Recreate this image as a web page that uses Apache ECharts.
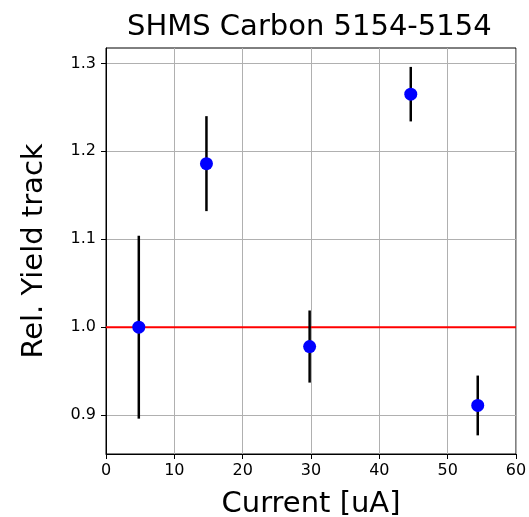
<!DOCTYPE html>
<html>
<head>
<meta charset="utf-8">
<script src="https://cdn.jsdelivr.net/npm/echarts@6/dist/echarts.min.js"></script>
<style>
html,body{margin:0;padding:0;background:#fff;}
#c{width:529px;height:517px;}
</style>
</head>
<body>
<div id="c"></div>
<script>
const titleText = 'SHMS Carbon 5154-5154';
const currents = [4.8, 14.7, 29.8, 44.6, 54.4];
const yields = [1.000, 1.186, 0.978, 1.265, 0.911];
const errors = [0.104, 0.054, 0.041, 0.031, 0.034];
const refLevel = 1.0;
const xTicks = [0, 10, 20, 30, 40, 50, 60];
const yTicks = [0.9, 1.0, 1.1, 1.2, 1.3];

const font = 'DejaVu Sans';
const chart = echarts.init(document.getElementById('c'), null, {renderer: 'canvas'});

const errData = currents.map((x, i) => [x, yields[i] - errors[i], yields[i] + errors[i]]);
const ptData = currents.map((x, i) => [x, yields[i]]);

chart.setOption({
  animation: false,
  backgroundColor: '#fff',
  title: {
    text: titleText,
    left: 122, top: 8,
    textStyle: {fontFamily: font, fontSize: 29, fontWeight: 'normal', color: '#000'}
  },
  grid: {left: 106, right: 13, top: 48, bottom: 63, outerBoundsMode: 'none', containLabel: false,
    show: true, borderColor: '#000', borderWidth: 1, backgroundColor: 'transparent'},
  xAxis: {
    type: 'value', min: 0, max: 60, interval: 10,
    name: 'Current [uA]', nameLocation: 'middle', nameGap: 36,
    nameTextStyle: {fontFamily: font, fontSize: 29, color: '#000'},
    axisLine: {show: true, lineStyle: {color: '#000', width: 1}},
    axisTick: {show: true, length: 5, lineStyle: {color: '#000'}},
    axisLabel: {fontFamily: font, fontSize: 16, color: '#000', margin: 9,
      customValues: xTicks},
    splitLine: {show: true, lineStyle: {color: '#b0b0b0', width: 1}}
  },
  yAxis: {
    type: 'value', min: 0.8558, max: 1.3175,
    name: 'Rel. Yield track', nameLocation: 'middle', nameGap: 57,
    nameTextStyle: {fontFamily: font, fontSize: 29, color: '#000'},
    axisLine: {show: true, lineStyle: {color: '#000', width: 1}},
    axisTick: {show: true, length: 5, lineStyle: {color: '#000'}, customValues: yTicks},
    axisLabel: {fontFamily: font, fontSize: 16, color: '#000', margin: 10,
      customValues: yTicks, formatter: v => v.toFixed(1)},
    splitLine: {show: true, lineStyle: {color: '#b0b0b0', width: 1}}
  },
  series: [
    {
      type: 'line', data: [[0, refLevel], [60, refLevel]],
      symbol: 'none', lineStyle: {color: '#ff0000', width: 2}, z: 1, silent: true
    },
    {
      type: 'custom', data: errData, z: 2,
      renderItem: function (params, api) {
        const p1 = api.coord([api.value(0), api.value(1)]);
        const p2 = api.coord([api.value(0), api.value(2)]);
        return {type: 'line', shape: {x1: p1[0], y1: p1[1], x2: p2[0], y2: p2[1]},
          style: {stroke: '#000', lineWidth: 2.5}};
      }
    },
    {
      type: 'scatter', data: ptData, symbol: 'circle', symbolSize: 13,
      itemStyle: {color: '#0000ff', opacity: 1}, z: 3
    }
  ]
});
</script>
</body>
</html>
